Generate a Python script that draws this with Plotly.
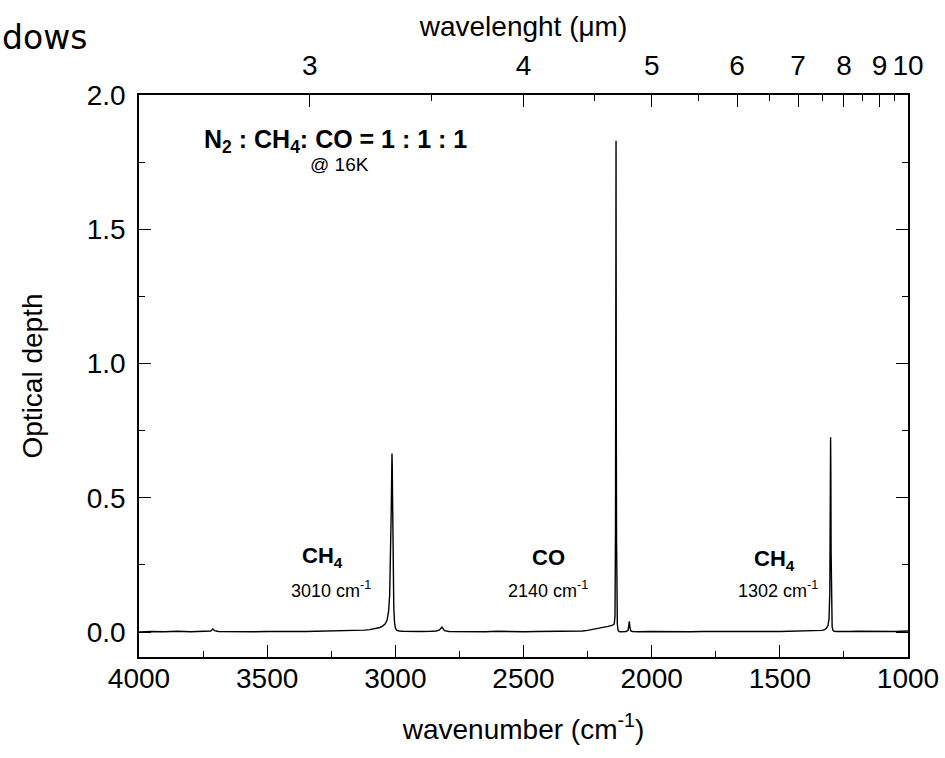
import plotly.graph_objects as go

# Spectrum: wavenumber (cm^-1) and optical depth
wavenumber = [4000, 3950, 3900, 3850, 3800, 3750, 3720, 3712, 3705, 3690, 3650, 3600, 3550,
              3500, 3450, 3400, 3350, 3300, 3250, 3200, 3150, 3120, 3100, 3080, 3060, 3050,
              3040, 3032, 3026, 3022, 3018, 3016, 3014, 3013, 3012, 3011, 3010, 3008, 3006,
              3003, 3000, 2995, 2985, 2970, 2950, 2900, 2860, 2840, 2828, 2822, 2818, 2814,
              2808, 2790, 2750, 2700, 2650, 2600, 2550, 2500, 2450, 2400, 2350, 2300, 2270,
              2250, 2230, 2210, 2195, 2180, 2170, 2160, 2152, 2146, 2143, 2141, 2140, 2139,
              2138, 2137, 2136, 2134, 2131, 2127, 2120, 2110, 2100, 2092, 2089, 2087, 2085,
              2082, 2075, 2050, 2000, 1950, 1900, 1850, 1800, 1750, 1700, 1650, 1600, 1550,
              1500, 1450, 1400, 1370, 1350, 1335, 1325, 1318, 1312, 1308, 1305, 1304, 1303,
              1302, 1301, 1300, 1298, 1296, 1293, 1288, 1280, 1260, 1230, 1200, 1150, 1100,
              1050, 1000]
optical_depth = [0.0, 0.002, 0.001, 0.003, 0.001, 0.002, 0.004, 0.011, 0.005, 0.002, 0.001,
                 0.002, 0.001, 0.002, 0.001, 0.002, 0.002, 0.003, 0.003, 0.004, 0.005, 0.007,
                 0.009, 0.012, 0.017, 0.022, 0.03, 0.045, 0.08, 0.14, 0.3, 0.45, 0.6, 0.665,
                 0.62, 0.52, 0.4, 0.2, 0.09, 0.035, 0.015, 0.007, 0.004, 0.003, 0.002, 0.002,
                 0.003, 0.004, 0.008, 0.015, 0.018, 0.013, 0.005, 0.002, 0.001, 0.002, 0.001,
                 0.003, 0.001, 0.001, 0.002, 0.002, 0.003, 0.003, 0.004, 0.006, 0.009, 0.013,
                 0.016, 0.019, 0.021, 0.023, 0.026, 0.03, 0.06, 0.4, 1.2, 1.83, 0.81, 0.35,
                 0.12, 0.03, 0.006, 0.002, 0.001, 0.001, 0.002, 0.006, 0.025, 0.04, 0.018,
                 0.005, 0.002, 0.001, 0.002, 0.001, 0.002, 0.001, 0.002, 0.003, 0.002, 0.002,
                 0.003, 0.002, 0.002, 0.003, 0.002, 0.003, 0.004, 0.006, 0.009, 0.014, 0.025,
                 0.05, 0.15, 0.4, 0.69, 0.725, 0.6, 0.3, 0.08, 0.02, 0.007, 0.003, 0.002, 0.003,
                 0.002, 0.003, 0.002, 0.003, 0.002, 0.004, 0.002]

# Bottom axis ticks (wavenumber)
wn_major = [4000, 3500, 3000, 2500, 2000, 1500, 1000]
wn_minor = [3750, 3250, 2750, 2250, 1750, 1250]
# Left axis ticks
od_major = [0.0, 0.5, 1.0, 1.5, 2.0]
od_minor = [0.25, 0.75, 1.25, 1.75]
# Top axis: wavelength ticks (micrometres)
wl_major = [3, 4, 5, 6, 7, 8, 9, 10]
wl_minor = [3.5, 4.5, 5.5, 6.5, 7.5, 8.5, 9.5]

font_family = "Liberation Sans, Arial, sans-serif"
FS = 28  # axis font size

tick_common = dict(ticks="inside", ticklen=12, tickwidth=1.4, tickcolor="black",
                   showgrid=False, zeroline=False, showline=True, linecolor="black",
                   linewidth=1.6, automargin=False)
minor_common = dict(ticks="inside", ticklen=6, tickwidth=1.4, tickcolor="black")

fig = go.Figure()
fig.add_trace(go.Scatter(x=wavenumber, y=optical_depth, mode="lines",
                         line=dict(color="black", width=1.4), showlegend=False,
                         hoverinfo="skip"))
# invisible trace to anchor the top axis
fig.add_trace(go.Scatter(x=wavenumber[:1], y=optical_depth[:1], xaxis="x2", mode="none",
                         showlegend=False, hoverinfo="skip"))

fig.update_layout(
    width=945, height=758,
    margin=dict(l=139, r=37, t=95, b=101),
    paper_bgcolor="white", plot_bgcolor="white",
    font=dict(family=font_family, color="black", size=FS),
    xaxis=dict(
        range=[4000, 1000], mirror=False,
        tickvals=wn_major, ticktext=[str(v) for v in wn_major],
        minor=dict(tickvals=wn_minor, **minor_common),
        tickfont=dict(size=FS), ticklabelstandoff=-4,
        title=dict(text="wavenumber (cm<sup>-1</sup>)", font=dict(size=FS), standoff=26),
        **tick_common,
    ),
    xaxis2=dict(
        overlaying="x", side="top", range=[4000, 1000],
        tickvals=[10000 / w for w in wl_major], ticktext=[str(w) for w in wl_major],
        minor=dict(tickvals=[10000 / w for w in wl_minor], **minor_common),
        tickfont=dict(size=FS), ticklabelstandoff=7,
        title=dict(text="wavelenght (μm)", font=dict(size=FS), standoff=5),
        **tick_common,
    ),
    yaxis=dict(
        range=[-0.093, 2.0], mirror="ticks",
        tickvals=od_major, ticktext=[f"{v:.1f}" for v in od_major],
        minor=dict(tickvals=od_minor, **minor_common),
        tickfont=dict(size=FS), ticklabelstandoff=6,
        title=dict(text="Optical depth", font=dict(size=FS), standoff=36),
        **tick_common,
    ),
)

ann = []
ann.append(dict(x=3754, y=1.83, xref="x", yref="y", xanchor="left", yanchor="middle",
                text="<b>N<sub>2</sub> : CH<sub>4</sub>: CO = 1 : 1 : 1</b>",
                showarrow=False, font=dict(size=25)))
ann.append(dict(x=3216, y=1.74, xref="x", yref="y", xanchor="center", yanchor="middle",
                text="@ 16K", showarrow=False, font=dict(size=19)))
for xc, yl, lab in [(3286, 0.278, "<b>CH<sub>4</sub></b>"),
                    (2404, 0.278, "<b>CO</b>"),
                    (1519, 0.27, "<b>CH<sub>4</sub></b>")]:
    ann.append(dict(x=xc, y=yl, xref="x", yref="y", xanchor="center", yanchor="middle",
                    text=lab, showarrow=False, font=dict(size=22)))
for xc, lab in [(3250, "3010 cm<sup>-1</sup>"), (2404, "2140 cm<sup>-1</sup>"),
                (1507, "1302 cm<sup>-1</sup>")]:
    ann.append(dict(x=xc, y=0.16, xref="x", yref="y", xanchor="center", yanchor="middle",
                    text=lab, showarrow=False, font=dict(size=18)))
# slide title fragment at the top-left corner
ann.append(dict(x=-139 / 769, y=(657 - 37) / 562, xref="paper", yref="paper",
                xanchor="left", yanchor="middle", text="dows", showarrow=False,
                xshift=0, font=dict(size=33, family="DejaVu Sans, sans-serif")))
fig.update_layout(annotations=ann)

fig.write_html("out.html")
